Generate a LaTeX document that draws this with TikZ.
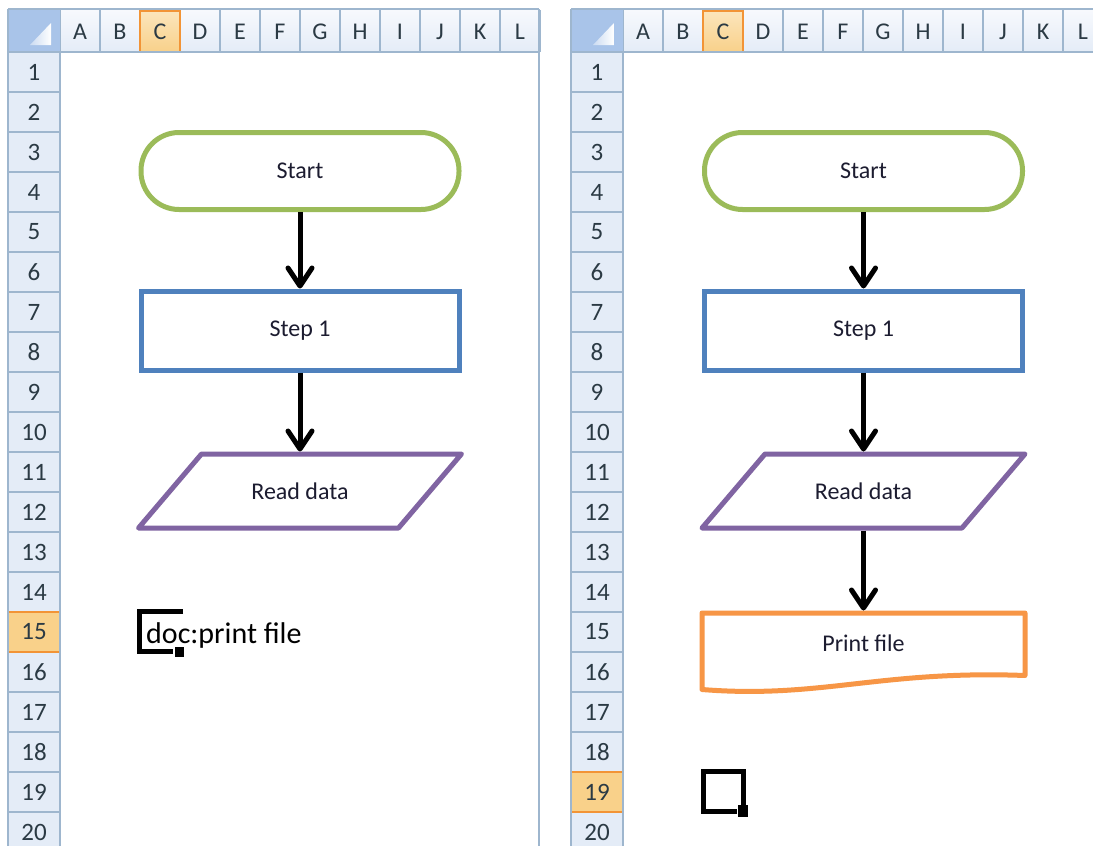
\documentclass[tikz,border=0pt]{standalone}
\usepackage{fontspec}
\setmainfont{Carlito}
\usetikzlibrary{arrows.meta,calc}
\definecolor{hdrsepc}{HTML}{9EB6CE}
\definecolor{hdrfill}{HTML}{E4ECF7}
\definecolor{hdrtop}{HTML}{F7F9FD}
\definecolor{selfill}{HTML}{F9D18A}
\definecolor{seltop}{HTML}{FBE5BC}
\definecolor{selline}{HTML}{F29436}
\definecolor{cornerc}{HTML}{A9C4E9}
\definecolor{hdrtext}{HTML}{2B3A44}
\definecolor{txtc}{HTML}{1C1C30}
\definecolor{grn}{HTML}{9BBB59}
\definecolor{blu}{HTML}{4F81BD}
\definecolor{pur}{HTML}{8064A2}
\definecolor{org}{HTML}{F79646}
\tikzset{
  hdrsep/.style={draw=hdrsepc,line width=1.2pt},
  collabel/.style={font=\fontsize{24}{28}\selectfont,text=hdrtext,inner sep=0pt},
  rowlabel/.style={font=\fontsize{25}{28}\selectfont,text=hdrtext,inner sep=0pt},
  shapetext/.style={font=\fontsize{24}{28}\selectfont,text=txtc},
  termbox/.style={shapetext,draw=grn,line width=5pt,rounded corners=38pt,minimum width=318pt,minimum height=77pt},
  stepbox/.style={shapetext,draw=blu,line width=5pt,minimum width=318pt,minimum height=79pt},
  iobox/.style={shapetext,minimum width=318pt,minimum height=74pt,outer sep=2.5pt},
  iodraw/.style={draw=pur,line width=5pt,line join=round},
  docbox/.style={shapetext,minimum width=318pt,minimum height=60pt,outer sep=2.5pt},
  docdraw/.style={draw=org,line width=5pt,line join=round},
  arr/.style={draw=black,line width=5pt,-{Straight Barb[length=18pt,width=24pt,round]}},
  cursor/.style={draw=black,line width=5pt},
}
\newcommand\xlsheet[4]{%
\begin{scope}[xshift=#2pt]
  \shade[top color=hdrtop,bottom color=hdrfill] (60,10) rectangle (#4,52);
  \shade[top color=seltop,bottom color=selfill] (140,11) rectangle (180,52);
  \foreach \i in {0,...,12} \draw[hdrsep] (60+40*\i,10) -- (60+40*\i,52);
  \draw[selline,line width=1.5pt] (140,11) rectangle (180,52);
  \fill[hdrfill] (8,52) rectangle (60,846);
  \fill[selfill] (8,{12+40*#3}) rectangle (60,{52+40*#3});
  \foreach \i in {1,...,20} \draw[hdrsep] (8,52+40*\i) -- (60,52+40*\i);
  \draw[selline,line width=1.5pt] (8,{12+40*#3}) rectangle (60,{52+40*#3});
  \fill[cornerc] (8,10) rectangle (60,52);
  \shade[left color=cornerc!60!white,right color=white] (30,45) -- (51,45) -- (51,23) -- cycle;
  \draw[hdrsep] (8,9) -- (#4,9);
  \draw[hdrsep] (8,9) -- (8,846);
  \draw[hdrsep] (8,52) -- (#4,52);
  \draw[hdrsep] (60,52) -- (60,846);
  \foreach \l [count=\i] in {A,B,C,D,E,F,G,H,I,J,K,L}
    \node[collabel] (#1col\i) at (40+40*\i,32) {\l};
  \foreach \i in {1,...,20}
    \node[rowlabel] (#1row\i) at (34,32+40*\i) {\i};
\end{scope}}
\begin{document}
\begin{tikzpicture}[x=1pt,y=-1pt]
\useasboundingbox (0,0) rectangle (1093,846);
\clip (0,0) rectangle (1093,846);
\fill[white] (0,0) rectangle (1093,846);
% left sheet
\xlsheet{a}{0}{15}{539}
\draw[hdrsep] (539,9) -- (539,846);
% right sheet
\xlsheet{b}{563}{19}{540}

% left flowchart
\node[termbox] (startA) at (300,171) {Start};
\node[stepbox] (stepA) at (300,330.5) {Step 1};
\node[iobox] (readA) at (300,491) {Read data};
\draw[iodraw] ($(readA.north west)+(63,2.5)$) -- ($(readA.north east)+(0,2.5)$) -- ($(readA.south east)+(-63,-2.5)$) -- ($(readA.south west)+(0,-2.5)$) -- cycle;
\draw[arr] (startA.south) -- (stepA.north);
\draw[arr] (stepA.south) -- (readA.north);
\node[anchor=base west,inner sep=0pt,font=\fontsize{30}{34}\selectfont,text=black] (docA) at (146,643) {doc:print file};
\draw[cursor] (183,611.5) -- (139.5,611.5) -- (139.5,651) -- (173,651);
\fill[black] (175,647) rectangle (184,657);

% right flowchart
\node[termbox] (startB) at (863.5,171) {Start};
\node[stepbox] (stepB) at (863.5,330.5) {Step 1};
\node[iobox] (readB) at (863.5,491) {Read data};
\draw[iodraw] ($(readB.north west)+(63,2.5)$) -- ($(readB.north east)+(0,2.5)$) -- ($(readB.south east)+(-63,-2.5)$) -- ($(readB.south west)+(0,-2.5)$) -- cycle;
\node[docbox] (printB) at (863.5,643) {Print file};
\draw[docdraw] ($(printB.north west)+(0,2.5)$) -- ($(printB.north east)+(0,2.5)$) -- ($(printB.south east)+(0,0)$)
  .. controls (880,670) and (820,699) .. ($(printB.south west)+(0,14)$) -- cycle;
\draw[arr] (startB.south) -- (stepB.north);
\draw[arr] (stepB.south) -- (readB.north);
\draw[arr] (readB.south) -- (printB.north);
\draw[cursor] (743.5,806) -- (743.5,771.5) -- (703.5,771.5) -- (703.5,811.5) -- (737,811.5);
\fill[black] (738,805) rectangle (748,817);
\end{tikzpicture}
\end{document}
